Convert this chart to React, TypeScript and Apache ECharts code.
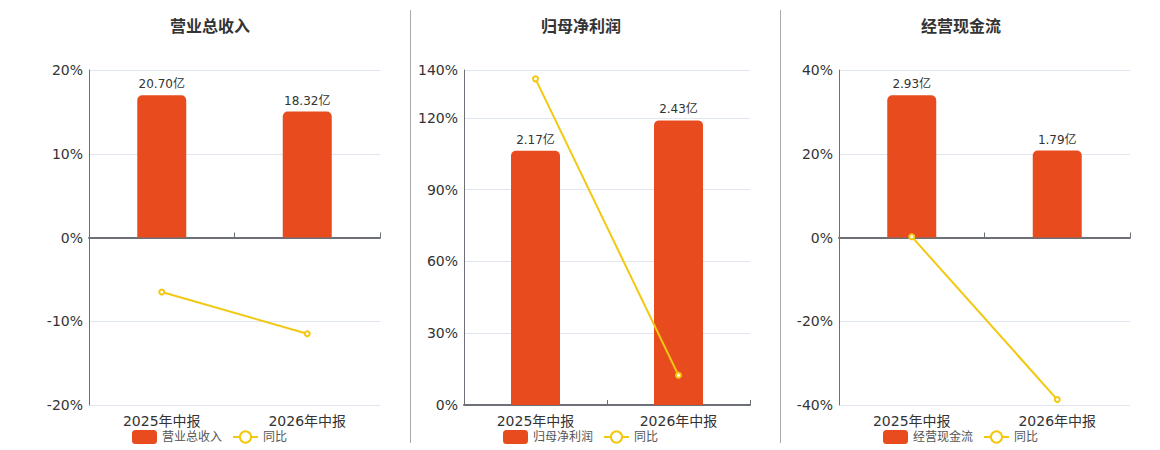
import React, { useEffect, useRef } from "react";
import * as echarts from "echarts";

const categories = ["2025年中报", "2026年中报"];
const titles = ["营业总收入", "归母净利润", "经营现金流"];
const revenue = [20.7, 18.32];
const revenueYoY = [-6.5, -11.5];
const profit = [2.17, 2.43];
const profitYoY = [136.3, 12.4];
const cash = [2.93, 1.79];
const cashYoY = [0.2, -38.7];
const pctAxes = [
  { min: -20, max: 20, interval: 10 },
  { min: 0, max: 140, interval: 30 },
  { min: -40, max: 40, interval: 20 },
];

const FONT = "DejaVu Sans, Noto Sans CJK SC, sans-serif";
const BAR = "#E84C1E";
const LINE = "#F2C811";

export default function App() {
  const ref = useRef<HTMLDivElement>(null);
  useEffect(() => {
    if (!ref.current) return;
    const chart = echarts.init(ref.current, null, { renderer: "svg" });
    const bars = [revenue, profit, cash];
    const yoys = [revenueYoY, profitYoY, cashYoY];
    const gridLefts = [81, 456, 831];
    const gridWidths = [291, 286, 291];
    const titleX = [197, 568, 948];
    const legendX = [119, 490, 870];

    const grid: any[] = [];
    const xAxis: any[] = [];
    const yAxis: any[] = [];
    const series: any[] = [];
    const title: any[] = [];
    const legend: any[] = [];

    for (let i = 0; i < 3; i++) {
      grid.push({ left: gridLefts[i], top: 62, width: gridWidths[i], height: 335 });
      title.push({
        text: titles[i],
        left: titleX[i],
        top: 5,
        textAlign: "center",
        textStyle: { fontSize: 16, fontWeight: "bold", color: "#333", fontFamily: FONT },
      });
      legend.push({
        left: legendX[i],
        top: 417,
        itemWidth: 25,
        itemHeight: 14,
        itemGap: 10,
        data: [titles[i], "同比"],
        textStyle: { fontSize: 12, color: "#555", fontFamily: FONT },
      });
      xAxis.push({
        type: "category",
        gridIndex: i,
        data: categories,
        position: "bottom",
        axisLine: { show: false, onZero: false },
        axisTick: { show: false },
        axisLabel: { fontSize: 14, color: "#333", fontFamily: FONT, margin: 9 },
      });
      xAxis.push({
        type: "category",
        gridIndex: i,
        data: categories,
        axisLine: { show: true, onZero: true, onZeroAxisIndex: i * 2, lineStyle: { color: "#6E7079", width: 2 } },
        axisTick: { show: true, length: 5, lineStyle: { color: "#6E7079", width: 1 } },
        axisLabel: { show: false },
      });
      const p = pctAxes[i];
      yAxis.push({
        type: "value",
        gridIndex: i,
        min: p.min,
        max: p.max,
        interval: p.interval,
        axisLine: { show: true, lineStyle: { color: "#6E7079", width: 1 } },
        axisTick: { show: false },
        splitLine: { lineStyle: { color: "#E0E6F1" } },
        axisLabel: { formatter: "{value}%", fontSize: 14, color: "#333", fontFamily: FONT, margin: 6 },
      });
      const bmax = Math.max(...bars[i]) * 1.177;
      yAxis.push({
        type: "value",
        gridIndex: i,
        min: p.min < 0 ? -bmax : 0,
        max: bmax,
        show: false,
        splitLine: { show: false },
      });
      series.push({
        type: "bar",
        name: titles[i],
        xAxisIndex: i * 2,
        yAxisIndex: i * 2 + 1,
        data: bars[i],
        barWidth: 49,
        itemStyle: { color: BAR, borderRadius: [5, 5, 0, 0] },
        label: {
          show: true,
          position: "top",
          distance: 5,
          formatter: (d: any) => d.value.toFixed(2) + "亿",
          fontSize: 12,
          color: "#333",
          fontFamily: FONT,
        },
        z: 2,
      });
      series.push({
        type: "line",
        name: "同比",
        xAxisIndex: i * 2,
        yAxisIndex: i * 2,
        data: yoys[i],
        symbol: "emptyCircle",
        symbolSize: 5,
        itemStyle: { color: LINE },
        lineStyle: { color: LINE, width: 2 },
        z: 5,
      });
    }

    chart.setOption({
      animation: false,
      textStyle: { fontFamily: FONT },
      title,
      legend,
      grid,
      xAxis,
      yAxis,
      series,
      graphic: [
        { type: "line", shape: { x1: 402.5, y1: 2, x2: 402.5, y2: 435 }, style: { stroke: "#AAAAAA", lineWidth: 1 } },
        { type: "line", shape: { x1: 772.5, y1: 2, x2: 772.5, y2: 435 }, style: { stroke: "#AAAAAA", lineWidth: 1 } },
      ],
    });
    return () => chart.dispose();
  }, []);
  return <div ref={ref} style={{ width: 1144, height: 442 }} />;
}
